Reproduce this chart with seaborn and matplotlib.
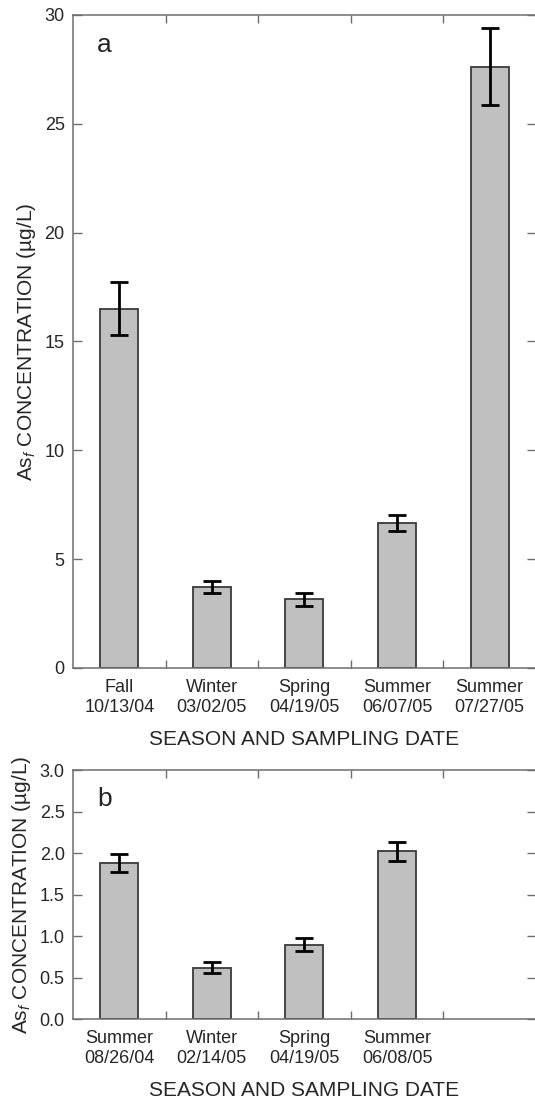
import matplotlib
matplotlib.use("Agg")
import matplotlib.pyplot as plt
import seaborn as sns
import pandas as pd

# Panel a
labels_a = ["Fall\n10/13/04", "Winter\n03/02/05", "Spring\n04/19/05",
            "Summer\n06/07/05", "Summer\n07/27/05"]
conc_a = [16.5, 3.73, 3.15, 6.65, 27.63]
err_a = [1.22, 0.28, 0.30, 0.36, 1.75]

# Panel b
labels_b = ["Summer\n08/26/04", "Winter\n02/14/05", "Spring\n04/19/05",
            "Summer\n06/08/05"]
conc_b = [1.88, 0.62, 0.90, 2.02]
err_b = [0.11, 0.066, 0.08, 0.11]

sns.set_style("ticks")
plt.rcParams["font.family"] = ["Liberation Sans", "DejaVu Sans"]
plt.rcParams["mathtext.fontset"] = "custom"
plt.rcParams["mathtext.rm"] = "Liberation Sans"
plt.rcParams["mathtext.it"] = "Liberation Sans:italic"

SPINE = "#6e6e6e"
BAR = "#c0c0c0"
EDGE = "#3a3a3a"
YLABEL = r"As$_{f}$ CONCENTRATION (µg/L)"
XLABEL = "SEASON AND SAMPLING DATE"


def draw_panel(ax, labels, values, errs, ymax, yticks, ylabels, tag, tag_y):
    df = pd.DataFrame({"label": labels, "conc": values})
    sns.barplot(data=df, x="label", y="conc", color=BAR, edgecolor=EDGE,
                linewidth=1.3, width=0.41, saturation=1, errorbar=None, ax=ax)
    ax.errorbar(range(len(values)), values, yerr=errs, fmt="none",
                ecolor="black", elinewidth=2.0, capsize=6.5, capthick=2.0,
                zorder=5)

    ax.set_xlim(-0.5, 4.5)
    ax.set_ylim(0, ymax)
    ax.set_yticks(yticks)
    ax.set_yticklabels(ylabels)
    ax.set_xticks(range(len(labels)))
    ax.set_xticklabels(labels)
    ax.set_xticks([0.5, 1.5, 2.5, 3.5], minor=True)

    ax.tick_params(axis="x", which="major", length=0, pad=8, labelsize=13)
    ax.tick_params(axis="x", which="minor", direction="in", length=6,
                   width=1.0, color=SPINE, top=True, bottom=True)
    ax.tick_params(axis="y", which="major", direction="in", length=6.5,
                   width=1.0, color=SPINE, left=True, right=True,
                   pad=6, labelsize=13)

    for sp in ax.spines.values():
        sp.set_visible(True)
        sp.set_color(SPINE)
        sp.set_linewidth(1.1)

    ax.set_xlabel(XLABEL, fontsize=15, labelpad=10)
    ax.set_ylabel(YLABEL, fontsize=15, labelpad=5)
    ax.text(0.052, tag_y, tag, transform=ax.transAxes, fontsize=19,
            va="baseline", ha="left")


fig = plt.figure(figsize=(5.35, 11.01), dpi=100)
ax_a = fig.add_axes([0.1364, 0.3933, 0.8654, 0.5931])
ax_b = fig.add_axes([0.1364, 0.0742, 0.8654, 0.2264])

draw_panel(ax_a, labels_a, conc_a, err_a, 30, [0, 5, 10, 15, 20, 25, 30],
           ["0", "5", "10", "15", "20", "25", "30"], "a", 0.944)
draw_panel(ax_b, labels_b, conc_b, err_b, 3.0,
           [0, 0.5, 1.0, 1.5, 2.0, 2.5, 3.0],
           ["0.0", "0.5", "1.0", "1.5", "2.0", "2.5", "3.0"], "b", 0.856)

fig.savefig("out.png", dpi=100)
